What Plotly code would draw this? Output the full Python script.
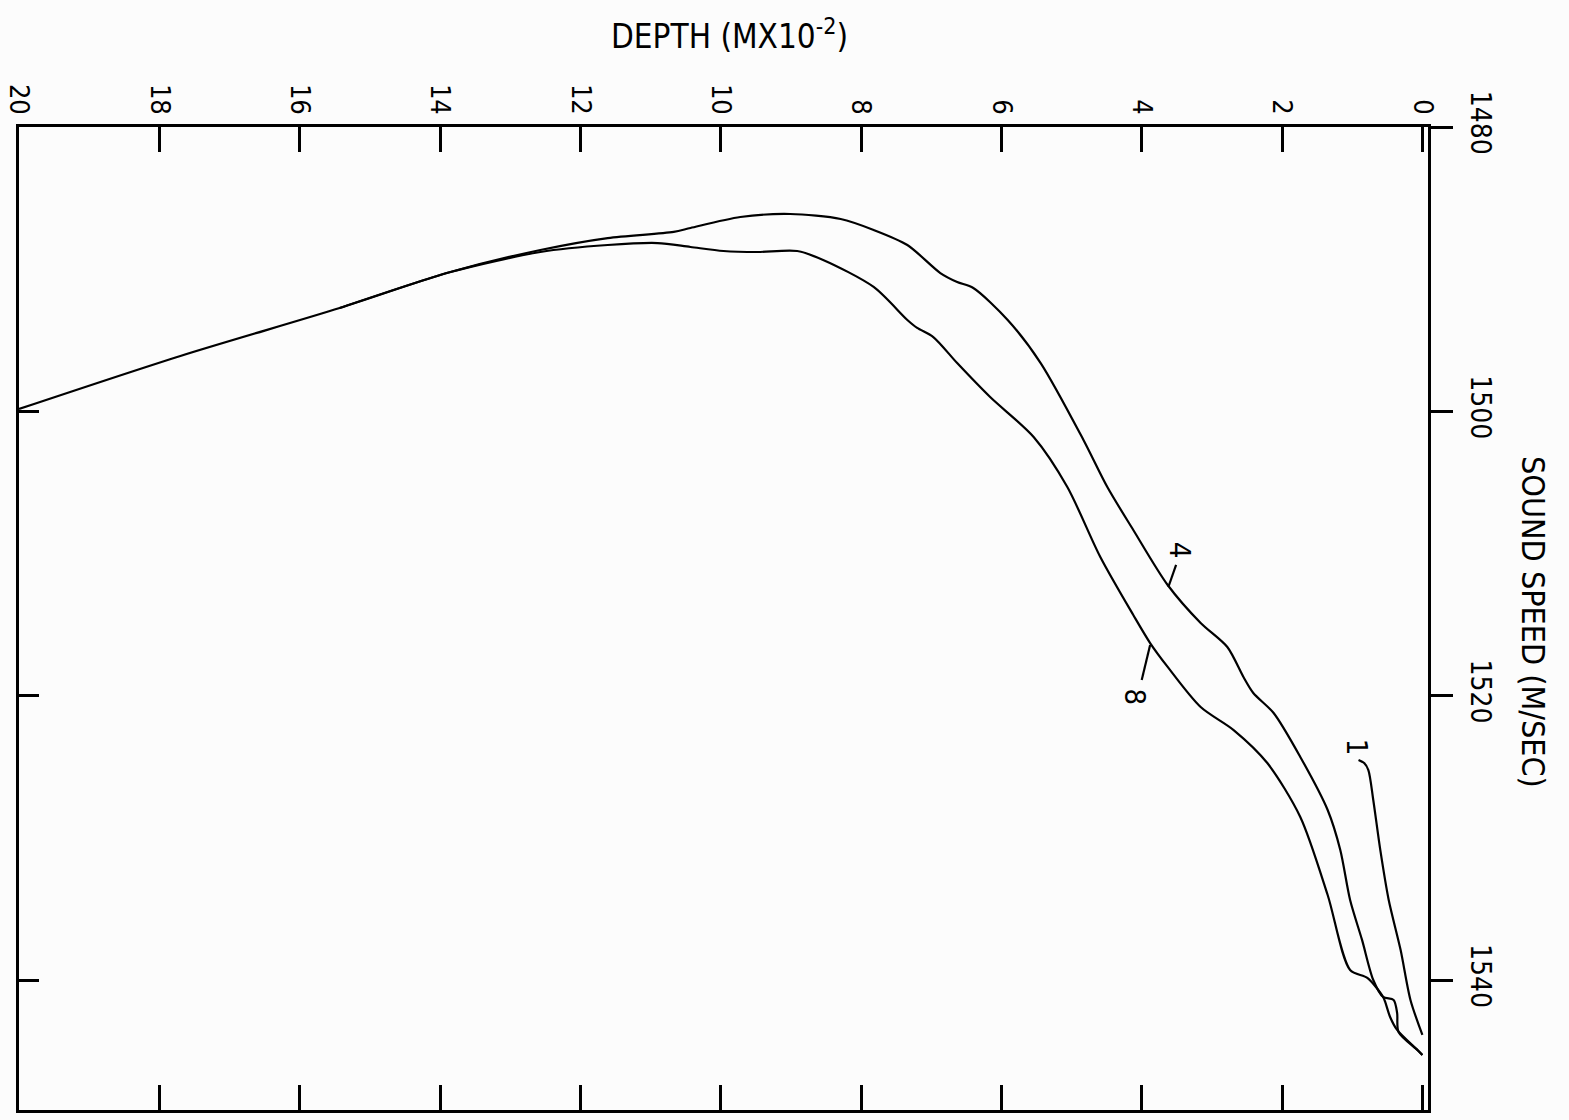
import plotly.graph_objects as go

# ---------------- data (depth in M x 10^-2, sound speed in M/SEC) ----------------
depth_ticks = [0, 2, 4, 6, 8, 10, 12, 14, 16, 18, 20]
speed_ticks = [1480, 1500, 1520, 1540]

curve4_depth = [15.43, 13.85, 12.57, 11.61, 10.67, 10.43, 9.72, 9.01, 8.29, 7.82, 7.34,
                6.87, 6.63, 6.40, 5.91, 5.44, 4.83, 4.49, 4.12, 3.63, 3.16, 2.78, 2.55,
                2.41, 2.12, 1.74, 1.35, 1.17, 1.03, 0.86, 0.70, 0.56, 0.41, 0.36, 0.34,
                0.07, 0.0]
curve4_speed = [1492.73, 1490.20, 1488.65, 1487.81, 1487.38, 1487.10, 1486.33, 1486.12,
                1486.47, 1487.24, 1488.30, 1490.27, 1490.90, 1491.32, 1493.57, 1496.60,
                1502.01, 1505.32, 1508.34, 1512.21, 1514.88, 1516.57, 1518.68, 1519.80,
                1521.21, 1524.30, 1528.03, 1530.84, 1534.36, 1537.17, 1539.99, 1541.18,
                1541.39, 1542.31, 1543.64, 1544.91, 1545.26]

curve8_depth = [20.0, 17.70, 15.43, 13.85, 12.57, 11.61, 10.90, 10.43, 9.96, 9.48, 8.91,
                8.54, 7.82, 7.34, 7.20, 6.97, 6.63, 6.16, 5.54, 5.06, 4.59, 4.12, 3.88,
                3.63, 3.16, 2.69, 2.21, 1.74, 1.35, 1.03, 0.78, 0.56, 0.53, 0.46, 0.36,
                0.07, 0.0]
curve8_speed = [1499.83, 1496.10, 1492.73, 1490.20, 1488.79, 1488.30, 1488.16, 1488.44,
                1488.72, 1488.79, 1488.72, 1489.35, 1491.25, 1493.57, 1494.13, 1494.77,
                1496.60, 1498.99, 1501.80, 1505.32, 1510.24, 1514.32, 1516.29, 1517.97,
                1520.79, 1522.41, 1524.73, 1528.52, 1534.01, 1539.28, 1539.85, 1541.18,
                1541.53, 1542.59, 1543.50, 1544.91, 1545.26]

curve1_depth = [0.91, 0.83, 0.77, 0.70, 0.60, 0.48, 0.31, 0.17, 0.0]
curve1_speed = [1524.51, 1524.73, 1525.22, 1527.33, 1530.84, 1534.36, 1537.88, 1541.39, 1543.85]

curve_labels = ["4", "8", "1"]
label_depth = [3.45, 4.09, 0.93]
label_speed = [1509.75, 1520.08, 1523.6]

leader4_depth = [3.62, 3.51]
leader4_speed = [1512.35, 1510.8]
leader8_depth = [3.88, 4.00]
leader8_speed = [1516.43, 1518.89]

# ---------------- figure ----------------
FONT = "Liberation Sans Narrow, DejaVu Sans Condensed, Arial Narrow, Liberation Sans, sans-serif"
LINE = dict(color="black", width=2.2)

fig = go.Figure()
for dx, sy in [(curve4_depth, curve4_speed), (curve8_depth, curve8_speed),
               (curve1_depth, curve1_speed), (leader4_depth, leader4_speed),
               (leader8_depth, leader8_speed)]:
    fig.add_trace(go.Scatter(x=dx, y=sy, mode="lines", line=LINE,
                             line_shape="spline", line_smoothing=0.8,
                             hoverinfo="skip", showlegend=False))

# invisible trace on the left overlay axis so it renders
fig.add_trace(go.Scatter(x=[None], y=[None], yaxis="y2", showlegend=False))

for t, d, s in zip(curve_labels, label_depth, label_speed):
    fig.add_annotation(x=d, y=s, text=t, showarrow=False, textangle=90,
                       xanchor="center", yanchor="middle",
                       font=dict(family=FONT, size=29, color="black"))

y_range = [1549.13, 1480]

fig.update_layout(
    width=1569, height=1120,
    margin=dict(l=19, r=141, t=127, b=10, autoexpand=False),
    paper_bgcolor="#fcfcfc", plot_bgcolor="#fcfcfc",
    font=dict(family=FONT, color="black", size=28),
    xaxis=dict(range=[20, -0.08], side="top", tickvals=depth_ticks,
               ticktext=[str(v) for v in depth_ticks], tickangle=90,
               ticks="inside", ticklen=25, tickwidth=2.5, tickcolor="black",
               showline=True, linewidth=2.5, linecolor="black", mirror="ticks",
               showgrid=False, zeroline=False, automargin=False,
               tickfont=dict(family=FONT, size=27, color="black")),
    yaxis=dict(range=y_range, side="right", tickvals=speed_ticks,
               ticktext=[str(v) for v in speed_ticks], tickangle=90,
               ticks="outside", ticklen=22, tickwidth=2.5, tickcolor="black",
               ticklabelstandoff=7,
               showline=True, linewidth=2.5, linecolor="black",
               showgrid=False, zeroline=False, automargin=False,
               tickfont=dict(family=FONT, size=28, color="black")),
    yaxis2=dict(range=y_range, overlaying="y", side="left", tickvals=speed_ticks[1:],
                ticks="inside", ticklen=20, tickwidth=2.5, tickcolor="black",
                showticklabels=False, showline=True, linewidth=2.5, linecolor="black",
                showgrid=False, zeroline=False, automargin=False),
)

fig.add_annotation(xref="paper", yref="paper", x=0.504, y=1.0946,
                   xanchor="center", yanchor="middle",
                   text="DEPTH (MX10<sup>-2</sup>)", showarrow=False,
                   font=dict(family=FONT, size=33, color="black"))
fig.add_annotation(xref="paper", yref="paper", x=1.0745, y=0.4964,
                   xanchor="center", yanchor="middle",
                   text="SOUND SPEED (M/SEC)", showarrow=False, textangle=90,
                   font=dict(family=FONT, size=32, color="black"))

fig.write_html("out.html")
